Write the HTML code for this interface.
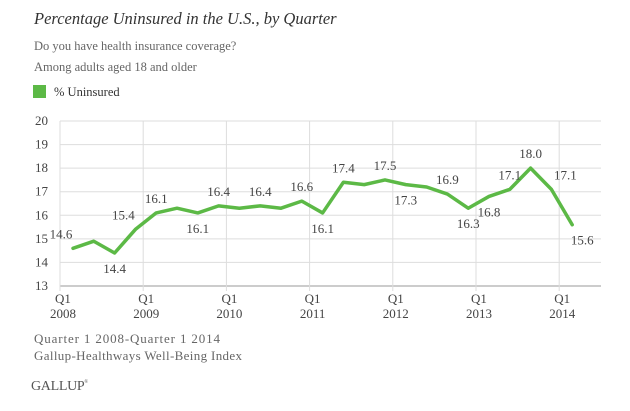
<!DOCTYPE html>
<html><head><meta charset="utf-8"><style>
body{margin:0;background:#fff;}
svg{display:block;font-family:"Liberation Serif",serif;}
</style></head><body>
<svg width="630" height="411" viewBox="0 0 630 411">
<text x="34" y="24" font-size="16.5" font-style="italic" fill="#333">Percentage Uninsured in the U.S., by Quarter</text>
<text x="34" y="50" font-size="12.5" fill="#666">Do you have health insurance coverage?</text>
<text x="34" y="71" font-size="12.5" fill="#666">Among adults aged 18 and older</text>
<rect x="33" y="85" width="13" height="13" fill="#5cb946"/>
<text x="54" y="96" font-size="12.5" fill="#333">% Uninsured</text>
<g id="grid"></g>
<g id="axes"></g>
<g id="series"></g>
<g id="labels"></g>
<text x="34" y="343" font-size="13" fill="#666" textLength="186">Quarter 1 2008-Quarter 1 2014</text>
<text x="34" y="360" font-size="13" fill="#666" textLength="208">Gallup-Healthways Well-Being Index</text>
<text x="31" y="390" font-size="14" fill="#555" letter-spacing="-0.3">GALLUP<tspan font-size="5" dy="-7">®</tspan></text>
</svg>
<script>
const values=[14.6,14.9,14.4,15.4,16.1,16.3,16.1,16.4,16.3,16.4,16.3,16.6,16.1,17.4,17.3,17.5,17.3,17.2,16.9,16.3,16.8,17.1,18.0,17.1,15.6];
const yTicks=[13,14,15,16,17,18,19,20];
const years=["2008","2009","2010","2011","2012","2013","2014"];
const labelIdx=[0,2,3,4,6,7,9,11,12,13,15,16,18,19,20,21,22,23,24];
const labelPos=["al","b","al","a","b","a","a","a","b","a","a","b","a","b","b","a","a","ar","br"];
const NS="http://www.w3.org/2000/svg";
const L=60,R=601,T=121,B=286;
const y=v=>B-(v-13)/(20-13)*(B-T);
const x=i=>73+i*20.8;
const yearX=k=>L+k*83.2;
function mk(t,a,p){const e=document.createElementNS(NS,t);for(const k in a)e.setAttribute(k,a[k]);p.appendChild(e);return e;}
const g=document.getElementById('grid'),ax=document.getElementById('axes'),s=document.getElementById('series'),lb=document.getElementById('labels');
yTicks.forEach(v=>{
 const l=mk('line',{x1:L,x2:R,y1:y(v),y2:y(v),stroke:v===13?'#bbb':'#ddd','stroke-width':v===13?1.5:1},g);
 
 
 const t=mk('text',{x:48,y:y(v)+4,'text-anchor':'end','font-size':13,fill:'#444'},ax);
 t.textContent=v;
 
 
});
years.forEach((yr,k)=>{
 const X=yearX(k);
 const l=mk('line',{x1:X,x2:X,y1:T,y2:B+5,stroke:'#ddd','stroke-width':1},g);
 
 
 const q=mk('text',{x:X+3,y:303,'text-anchor':'middle','font-size':13,fill:'#444'},ax);
 q.textContent='Q1';
 
 
 const t=mk('text',{x:X+3,y:318,'text-anchor':'middle','font-size':13,fill:'#444'},ax);
 t.textContent=yr;
 
 
});
const pl=mk('polyline',{points:values.map((v,i)=>x(i)+','+y(v)).join(' '),fill:'none',stroke:'#5cb946','stroke-width':3.5,'stroke-linejoin':'round','stroke-linecap':'round'},s);


labelIdx.forEach((i,n)=>{
 const p=labelPos[n];let dx=0,dy=-10;
 if(p[0]==='b')dy=20;
 if(p==='al')dx=-12;if(p==='ar')dx=14;if(p==='br')dx=10;
 const t=mk('text',{x:x(i)+dx,y:y(values[i])+dy,'text-anchor':'middle','font-size':13,fill:'#444'},lb);
 t.textContent=values[i].toFixed(1);
 
 
});
</script>
</body></html>
